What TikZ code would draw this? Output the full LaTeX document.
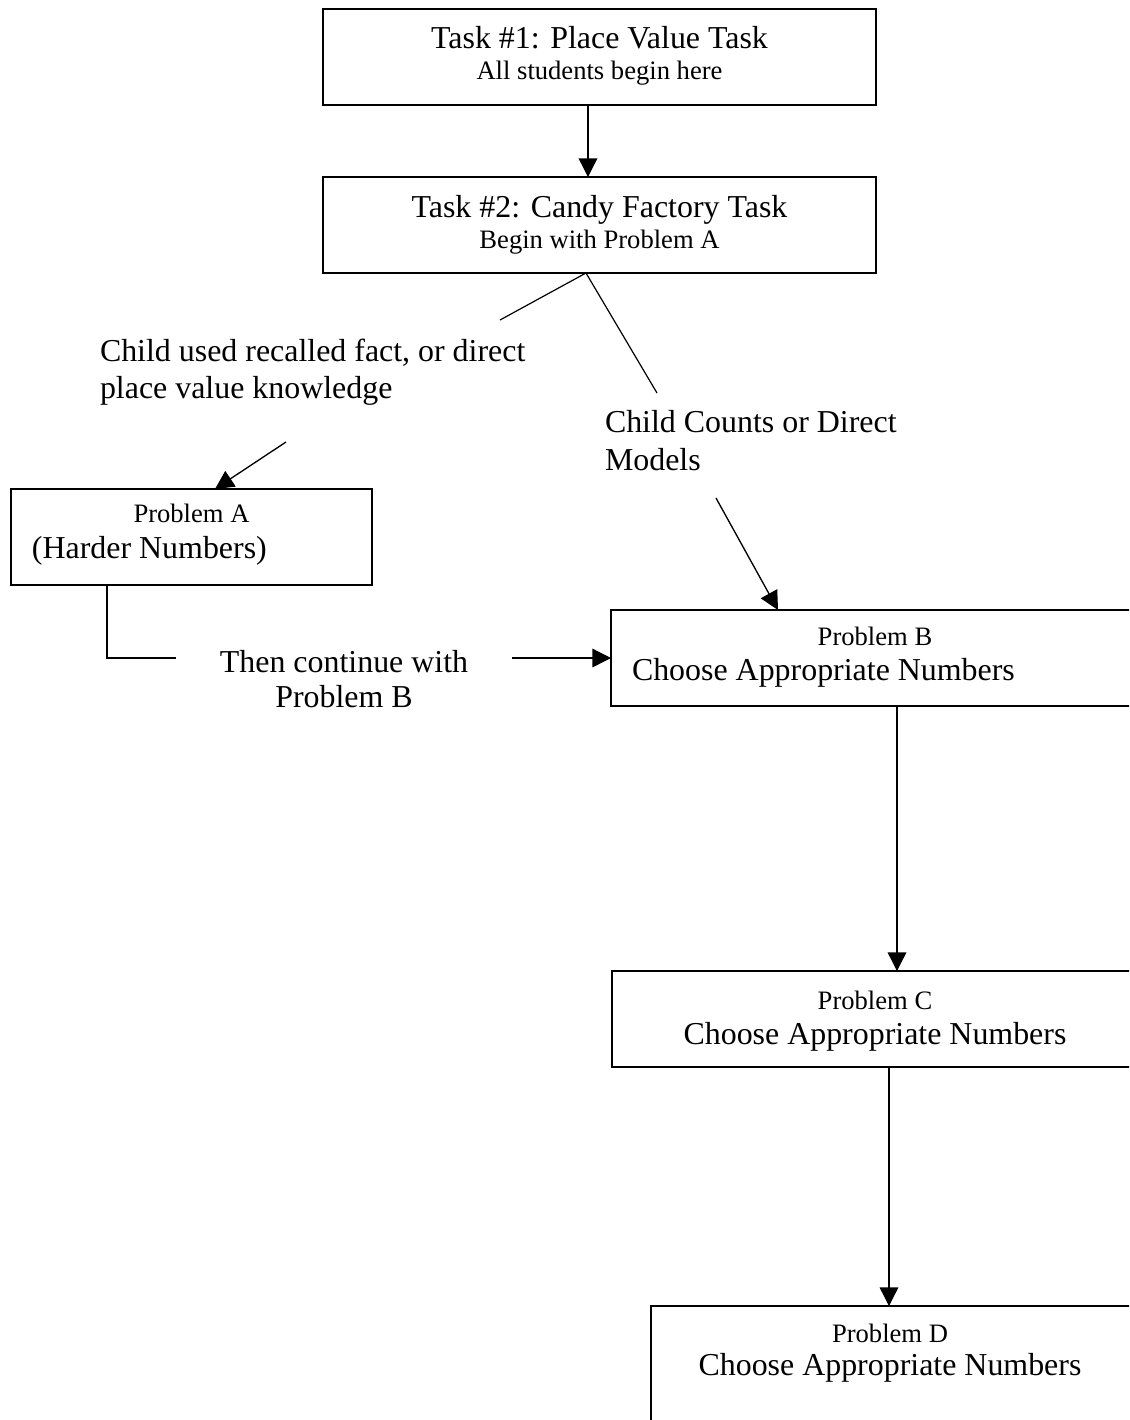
\documentclass[tikz,border=0pt]{standalone}
\usepackage{fontspec}
\setmainfont{Liberation Serif}
\usetikzlibrary{arrows.meta}
\newcommand\bigf{\fontsize{12}{14}\selectfont}
\newcommand\smallf{\fontsize{10}{12}\selectfont}
\tikzset{
  box/.style={draw, line width=0.65pt, inner sep=0pt, outer sep=0pt},
  boxwh/.style 2 args={minimum width=#1*0.376pt, minimum height=#2*0.376pt},
  big/.style={inner sep=0pt, outer sep=0pt, font=\bigf},
  sml/.style={inner sep=0pt, outer sep=0pt, font=\smallf},
  arr/.style={line width=0.5pt, -{Triangle[length=7pt,width=7pt]}},
  ln/.style={line width=0.45pt},
}
\begin{document}
\begin{tikzpicture}[x=0.376pt, y=-0.376pt]
\useasboundingbox (0,0) rectangle (1129,1420);
\fill[white] (0,0) rectangle (1129,1420);
\clip (0,0) rectangle (1129,1420);

% boxes
\node[box, boxwh={553}{96}] (t1) at (599.5,57) {};
\node[box, boxwh={553}{96}] (t2) at (599.5,225) {};
\node[box, boxwh={361}{96}] (pa) at (191.5,537) {};
\node[box, boxwh={528}{96}] (pb) at (875,658) {};
\node[box, boxwh={526}{96}] (pc) at (875,1019) {};
\node[box, boxwh={484}{128}] (pd) at (893,1370) {};

% helper coordinates
\coordinate (x1) at (588,0);
\coordinate (ap) at (586,0);
\coordinate (ea) at (500,320);
\coordinate (eb) at (657,393);
\coordinate (sa) at (286,442);
\coordinate (xa) at (215,0);
\coordinate (sb) at (716,498);
\coordinate (xb) at (778,0);
\coordinate (xl) at (107,0);
\coordinate (el) at (176,658);
\coordinate (sl) at (512,658);
\coordinate (xc) at (897,0);
\coordinate (xd) at (889,0);

% connectors
\draw[arr] (t1.south -| x1) -- (t2.north -| x1);
\draw[ln] (ea) -- (t2.south -| ap) -- (eb);
\draw[arr] (sa) -- (pa.north -| xa);
\draw[arr] (sb) -- (pb.north -| xb);
\draw[ln] (pa.south -| xl) |- (el);
\draw[arr] (sl) -- (pb.west);
\draw[arr] (pb.south -| xc) -- (pc.north -| xc);
\draw[arr] (pc.south -| xd) -- (pd.north -| xd);

% texts
\node[big, anchor=base] (t1a) at (599.5,48) {Task \#1: Place Value Task};
\node[sml, anchor=base] (t1b) at (599.5,79) {All students begin here};
\node[big, anchor=base] (t2a) at (599.5,217) {Task \#2: Candy Factory Task};
\node[sml, anchor=base] (t2b) at (599.5,248) {Begin with Problem A};
\node[big, anchor=base west] (la1) at (100,361) {Child used recalled fact, or direct};
\node[big, anchor=base west] (la2) at (100,398) {place value knowledge};
\node[big, anchor=base west] (lb1) at (605,432) {Child Counts or Direct};
\node[big, anchor=base west] (lb2) at (605,470) {Models};
\node[sml, anchor=base] (pa1) at (191.5,522) {Problem A};
\node[big, anchor=base west] (pa2) at (32,558) {(Harder Numbers)};
\node[big, anchor=base] (lc1) at (344,672) {Then continue with};
\node[big, anchor=base] (lc2) at (344,707) {Problem B};
\node[sml, anchor=base] (pb1) at (875,645) {Problem B};
\node[big, anchor=base west] (pb2) at (632,680) {Choose Appropriate Numbers};
\node[sml, anchor=base] (pc1) at (875,1009) {Problem C};
\node[big, anchor=base] (pc2) at (875,1044) {Choose Appropriate Numbers};
\node[sml, anchor=base] (pd1) at (890,1342) {Problem D};
\node[big, anchor=base] (pd2) at (890,1375) {Choose Appropriate Numbers};
\end{tikzpicture}
\end{document}
